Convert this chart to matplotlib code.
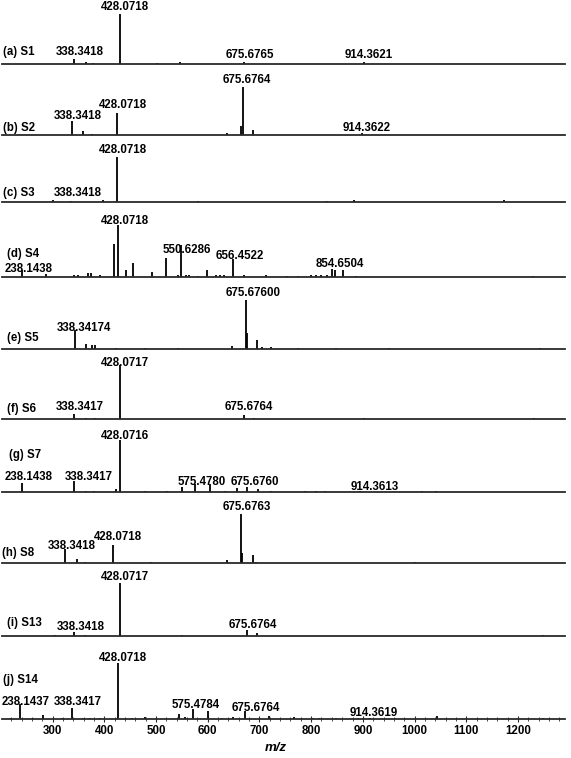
import matplotlib
matplotlib.use('Agg')
import matplotlib.pyplot as plt
from matplotlib.ticker import MultipleLocator

plt.rcParams['font.family'] = ['Liberation Sans', 'DejaVu Sans']
plt.rcParams['font.weight'] = 'bold'

# peaks: m/z position and relative height
a_mz = [342, 364, 378, 430, 501, 546, 670, 902]
a_int = [10, 4, 2, 96, 2, 3, 4, 4]
b_mz = [337, 358, 376, 424, 637, 665, 668, 687, 898]
b_int = [27, 8, 2, 42, 4, 18, 92, 10, 3]
c_mz = [300, 335, 397, 424, 581, 830, 882, 1173]
c_int = [4, 2, 4, 86, 2, 2, 4, 4]
d_mz = [241, 288, 342, 349, 368, 374, 391, 418, 427, 441, 455, 492, 519, 542, 548,
        557, 563, 581, 598, 616, 623, 631, 648, 670, 713, 753, 774, 799, 809, 820,
        830, 840, 846, 861, 886, 1229]
d_int = [14, 6, 3, 3, 8, 8, 3, 64, 100, 13, 26, 9, 37, 4, 62,
         3, 3, 2, 13, 3, 3, 3, 35, 3, 3, 2, 2, 4, 3, 3,
         4, 16, 14, 13, 2, 2]
e_mz = [343, 364, 376, 381, 422, 478, 542, 646, 673, 676, 696, 705, 722, 774, 848, 950, 1242]
e_int = [36, 10, 7, 8, 2, 2, 2, 6, 94, 30, 17, 3, 3, 2, 2, 2, 2]
f_mz = [342, 364, 381, 430, 670, 690, 902, 1231]
f_int = [9, 2, 2, 103, 7, 2, 2, 2]
g_mz = [241, 342, 364, 380, 422, 430, 478, 521, 550, 576, 604, 634, 656, 676, 697,
        722, 788, 809, 827, 894, 1014, 1041]
g_int = [18, 22, 2, 2, 5, 100, 2, 2, 10, 16, 16, 2, 8, 10, 5,
         2, 2, 2, 2, 2, 2, 2]
h_mz = [324, 348, 363, 416, 490, 637, 664, 667, 687, 693, 1000]
h_int = [27, 8, 2, 34, 2, 5, 94, 20, 16, 2, 2]
i_mz = [304, 341, 362, 430, 550, 676, 695, 1248]
i_int = [2, 8, 2, 102, 2, 11, 6, 2]
j_mz = [217, 236, 262, 281, 318, 337, 358, 372, 391, 426, 453, 478, 544, 556, 571,
        600, 627, 648, 672, 718, 766, 803, 816, 849, 890, 914, 1043, 1248]
j_int = [2, 29, 2, 7, 2, 21, 2, 2, 2, 107, 2, 3, 9, 3, 20,
         15, 2, 4, 15, 6, 3, 2, 2, 2, 2, 2, 5, 2]

names = ['(a) S1', '(b) S2', '(c) S3', '(d) S4', '(e) S5',
         '(f) S6', '(g) S7', '(h) S8', '(i) S13', '(j) S14']

# peak annotations: text, m/z of label centre, height of label centre
a_lab = [('428.0718', 440, 109), ('338.3418', 353, 23), ('675.6765', 681, 17), ('914.3621', 912, 17)]
b_lab = [('675.6764', 676, 105), ('428.0718', 436, 58), ('338.3418', 349, 36), ('914.3622', 908, 13)]
c_lab = [('428.0718', 436, 100), ('338.3418', 349, 17)]
d_lab = [('428.0718', 440, 107), ('550.6286', 560, 52), ('656.4522', 662, 40),
         ('854.6504', 855, 25), ('238.1438', 254, 15)]
e_lab = [('675.67600', 687, 107), ('338.34174', 360, 40)]
f_lab = [('428.0717', 440, 107), ('338.3417', 353, 23), ('675.6764', 679, 23)]
g_lab = [('428.0716', 440, 107), ('238.1438', 254, 29), ('338.3417', 370, 29),
         ('575.4780', 589, 19), ('675.6760', 691, 19), ('914.3613', 923, 10)]
h_lab = [('675.6763', 676, 107), ('428.0718', 426, 50), ('338.3418', 337, 33)]
i_lab = [('428.0717', 440, 113), ('338.3418', 354, 17), ('675.6764', 687, 21)]
j_lab = [('428.0718', 436, 117), ('238.1437', 248, 33), ('338.3417', 349, 33),
         ('575.4784', 577, 27), ('675.6764', 693, 21), ('914.3619', 921, 12)]

# layout
baselines = [64, 135, 202, 277, 349, 419, 492, 563, 636, 719]   # px from top
name_pos = [(204, 23), (204, 13), (204, 17), (211, 44), (211, 21),
            (211, 19), (215, 71), (202, 19), (211, 25), (204, 75)]

spectra = [(a_mz, a_int, a_lab), (b_mz, b_int, b_lab), (c_mz, c_int, c_lab),
           (d_mz, d_int, d_lab), (e_mz, e_int, e_lab), (f_mz, f_int, f_lab),
           (g_mz, g_int, g_lab), (h_mz, h_int, h_lab), (i_mz, i_int, i_lab),
           (j_mz, j_int, j_lab)]

W, H = 571, 758
fig = plt.figure(figsize=(W / 100, H / 100), dpi=100)
fs = 8.3

for k, (mz, inten, labs) in enumerate(spectra):
    base = baselines[k]
    ax = fig.add_axes([2 / W, (H - base) / H, 563 / W, 60 / H])
    ax.set_xlim(202, 1291)
    ax.set_ylim(0, 115)
    ax.vlines(mz, 0, inten, color='black', lw=1.3)
    for s in ['top', 'right', 'left']:
        ax.spines[s].set_visible(False)
    ax.spines['bottom'].set_color('#2a2a2a')
    ax.spines['bottom'].set_linewidth(1.3)
    ax.set_yticks([])
    ax.patch.set_alpha(0)
    for txt, x, y in labs:
        ax.text(x, y, txt, ha='center', va='center', fontsize=fs,
                fontweight='bold', clip_on=False)
    nx, ny = name_pos[k]
    ax.text(nx, ny, names[k], ha='left', va='center', fontsize=fs,
            fontweight='bold', clip_on=False)
    if k == len(spectra) - 1:
        ax.xaxis.set_major_locator(MultipleLocator(100))
        ax.xaxis.set_minor_locator(MultipleLocator(20))
        ax.tick_params(axis='x', which='major', direction='inout', length=4,
                       width=0.8, pad=2, labelsize=fs, color='#2a2a2a')
        ax.tick_params(axis='x', which='minor', direction='inout', length=2.5,
                       width=0.6, color='#2a2a2a')
        for t in ax.get_xticklabels():
            t.set_fontweight('bold')
    else:
        ax.set_xticks([])

fig.text(276 / W, 1 - 748 / H, 'm/z', ha='center', va='center',
         fontsize=9.5, fontweight='bold', style='italic')

fig.savefig('out.png', dpi=100)
